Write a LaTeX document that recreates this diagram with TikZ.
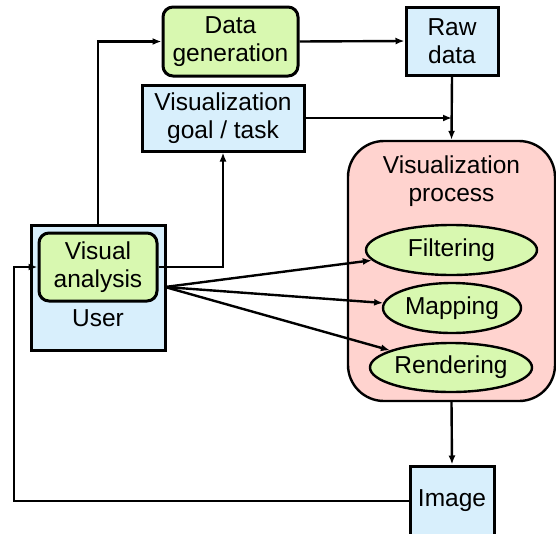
\documentclass[tikz,border=0pt]{standalone}
\usepackage{fontspec}
\setmainfont{Liberation Sans}
\usetikzlibrary{arrows.meta,shapes.geometric}
\definecolor{gfill}{HTML}{D8F8B0}
\definecolor{bfill}{HTML}{D8EFFC}
\definecolor{pfill}{HTML}{FFD3CF}
\tikzset{
  lbl/.style={font=\fontsize{24.5}{28.5}\selectfont, align=center, inner sep=0pt},
  bluebox/.style={lbl, draw, line width=3pt, fill=bfill, rectangle},
  greenbox/.style={lbl, draw, line width=3pt, fill=gfill, rectangle, rounded corners=10pt},
  greenell/.style={lbl, draw, line width=2.4pt, fill=gfill, ellipse, inner sep=0pt},
  procbox/.style={draw, line width=2.4pt, fill=pfill, rectangle, rounded corners=36pt, inner sep=0pt},
  conn/.style={line width=2.4pt, -{Latex[length=9pt,width=7pt]}},
  plain/.style={line width=2.4pt}
}
\begin{document}
\begin{tikzpicture}[x=1pt,y=-1pt]
\useasboundingbox (0,0) rectangle (556,533);
% nodes
\node[greenbox, minimum width=135pt, minimum height=69pt] (datagen) at (230.5,41.5) {Data\\generation};
\node[bluebox, minimum width=92pt, minimum height=68pt] (raw) at (452,41) {Raw\\data};
\node[bluebox, minimum width=162pt, minimum height=66pt] (goal) at (223,118) {Visualization\\goal / task};
\node[bluebox, minimum width=134pt, minimum height=125pt] (user) at (98,287.5) {};
\node[lbl] (userlbl) at (98,318) {User};
\node[greenbox, minimum width=118pt, minimum height=68pt] (va) at (98,267) {Visual\\analysis};
\node[procbox, minimum width=207pt, minimum height=260pt] (proc) at (451.5,271) {};
\node[lbl] (proctitle) at (451.5,181) {Visualization\\process};
\node[greenell, minimum width=171pt, minimum height=50pt] (filt) at (451.5,250) {Filtering};
\node[greenell, minimum width=138pt, minimum height=50pt] (map) at (452,308) {Mapping};
\node[greenell, minimum width=162pt, minimum height=49pt] (rend) at (451,367.5) {Rendering};
\node[bluebox, minimum width=84pt, minimum height=70pt] (img) at (452,501) {Image};
% coordinates
\coordinate (join) at (raw.south |- goal.east);
\coordinate (fan) at (165,287);
\coordinate (fb) at (14,501);
% connectors
\draw[conn] (user.north) |- (datagen.west);
\draw[conn] (datagen.east) -- (raw.west);
\draw[conn] (raw.south) -- (proc.north);
\draw[conn] (goal.east) -- (join);
\draw[conn] (va.east) -| (goal.south);
\draw[conn] (fan) -- (filt);
\draw[conn] (fan) -- (map);
\draw[conn] (fan) -- (rend);
\draw[conn] (proc.south) -- (img.north);
\draw[conn] (img.west) -- (fb) |- (va.west);
\end{tikzpicture}
\end{document}
